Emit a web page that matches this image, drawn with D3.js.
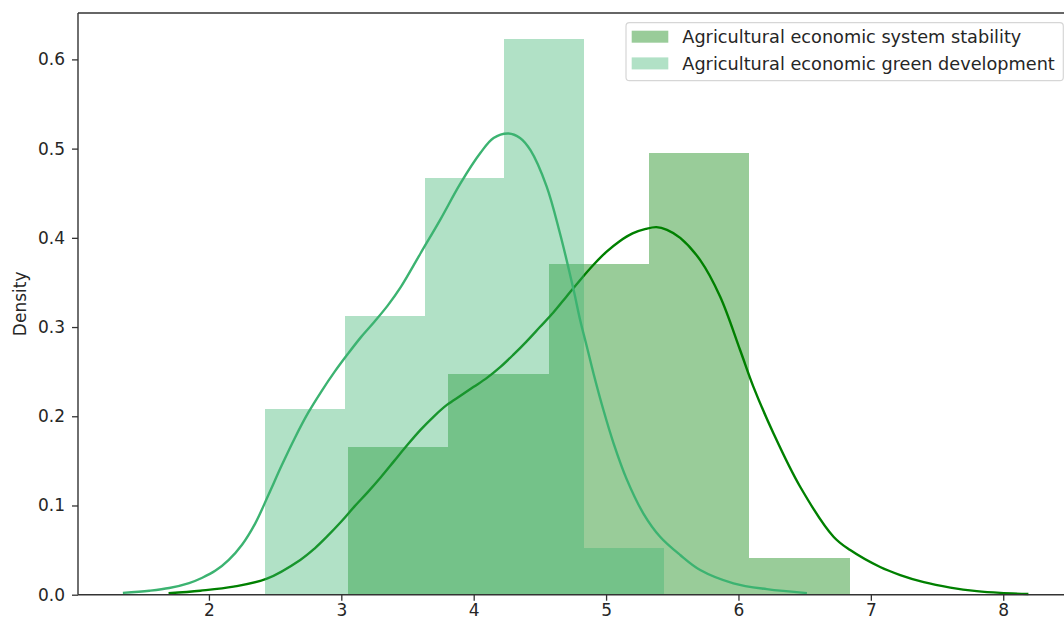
<!DOCTYPE html>
<html>
<head>
<meta charset="utf-8">
<script src="https://cdn.jsdelivr.net/npm/d3@7"></script>
<style>
  html, body { margin: 0; padding: 0; background: #fff; }
  svg { display: block; font-family: "DejaVu Sans", sans-serif; }
</style>
</head>
<body>
<svg id="chart" width="1064" height="621"></svg>
<script>
// ---- Data ----
const seriesNames = ["Agricultural economic system stability", "Agricultural economic green development"];
const seriesColors = ["#008000", "#3cb371"];

const stabilityEdges = [3.050, 3.808, 4.566, 5.324, 6.082, 6.840];
const stabilityDensity = [0.165, 0.247, 0.371, 0.495, 0.041];

const greenEdges = [2.425, 3.027, 3.629, 4.231, 4.833, 5.435];
const greenDensity = [0.208, 0.312, 0.467, 0.623, 0.052];

const stabilityKdeX = [1.695, 1.934, 2.186, 2.438, 2.690, 2.800, 2.891, 3.000, 3.100, 3.200, 3.300, 3.400, 3.500, 3.600, 3.700, 3.800, 3.900, 4.000, 4.100, 4.200, 4.300, 4.400, 4.500, 4.600, 4.700, 4.800, 4.900, 5.000, 5.100, 5.200, 5.300, 5.380, 5.460, 5.560, 5.711, 5.862, 6.013, 6.113, 6.264, 6.466, 6.718, 6.844, 7.070, 7.222, 7.400, 7.600, 7.800, 7.978, 8.190];
const stabilityKdeY = [0.0016, 0.0045, 0.009, 0.018, 0.039, 0.052, 0.065, 0.082, 0.099, 0.115, 0.132, 0.150, 0.168, 0.185, 0.200, 0.213, 0.223, 0.233, 0.243, 0.255, 0.269, 0.284, 0.300, 0.316, 0.334, 0.352, 0.369, 0.384, 0.396, 0.405, 0.410, 0.412, 0.409, 0.400, 0.375, 0.334, 0.274, 0.233, 0.181, 0.121, 0.065, 0.050, 0.031, 0.022, 0.014, 0.008, 0.004, 0.002, 0.0008];

const greenKdeX = [1.350, 1.550, 1.700, 1.850, 1.950, 2.050, 2.150, 2.250, 2.350, 2.450, 2.550, 2.650, 2.750, 2.850, 2.950, 3.050, 3.150, 3.250, 3.350, 3.450, 3.600, 3.750, 3.900, 4.050, 4.150, 4.263, 4.350, 4.430, 4.550, 4.650, 4.754, 4.804, 4.855, 4.905, 4.980, 5.056, 5.157, 5.282, 5.408, 5.560, 5.711, 5.962, 6.214, 6.517];
const greenKdeY = [0.002, 0.0045, 0.0075, 0.013, 0.019, 0.027, 0.039, 0.056, 0.080, 0.112, 0.145, 0.176, 0.204, 0.228, 0.250, 0.270, 0.289, 0.306, 0.324, 0.345, 0.383, 0.421, 0.461, 0.495, 0.512, 0.517, 0.512, 0.498, 0.458, 0.406, 0.342, 0.308, 0.278, 0.248, 0.207, 0.170, 0.129, 0.091, 0.065, 0.0445, 0.0277, 0.0128, 0.0062, 0.0018];

const xTicks = [2, 3, 4, 5, 6, 7, 8];
const yTicks = [0.0, 0.1, 0.2, 0.3, 0.4, 0.5, 0.6];
const yLabel = "Density";

// ---- Layout ----
const svg = d3.select("#chart");
const padL = 78, padR = 1073, padT = 13, padB = 594.7;
const fontSize = 17;
const legendFont = 17.7;
const textColor = "#262626";

const x = d3.scaleLinear().domain([1.011, 8.527]).range([padL, padR]);
const y = d3.scaleLinear().domain([0, 0.652]).range([padB, padT]);

function bins(edges, dens) {
  return dens.map((d, i) => ({ x0: edges[i], x1: edges[i + 1], h: d }));
}
function pts(xs, ys) { return xs.map((v, i) => [v, ys[i]]); }

const line = d3.line().x(d => x(d[0])).y(d => y(d[1])).curve(d3.curveCatmullRom.alpha(0.5));

const plot = svg.append("g");

function drawHist(data, color) {
  plot.append("g").selectAll("rect").data(data).join("rect")
    .attr("x", d => x(d.x0))
    .attr("width", d => x(d.x1) - x(d.x0))
    .attr("y", d => y(d.h))
    .attr("height", d => y(0) - y(d.h))
    .attr("fill", color)
    .attr("fill-opacity", 0.4)
    .attr("shape-rendering", "crispEdges");
}
function drawKde(data, color) {
  plot.append("path").datum(data)
    .attr("d", line)
    .attr("fill", "none")
    .attr("stroke", color)
    .attr("stroke-width", 2.4)
    .attr("stroke-linejoin", "round")
    .attr("stroke-linecap", "butt");
}

// seaborn order: hist + kde of first series, then second series
drawHist(bins(stabilityEdges, stabilityDensity), seriesColors[0]);
drawKde(pts(stabilityKdeX, stabilityKdeY), seriesColors[0]);
drawHist(bins(greenEdges, greenDensity), seriesColors[1]);
drawKde(pts(greenKdeX, greenKdeY), seriesColors[1]);

// ---- Axes ----
const xAxis = d3.axisBottom(x).tickValues(xTicks).tickFormat(d3.format("d")).tickSize(6).tickPadding(3);
const yAxis = d3.axisLeft(y).tickValues(yTicks).tickFormat(d3.format(".1f")).tickSize(6).tickPadding(7);

const gx = svg.append("g").attr("transform", `translate(0,${padB})`).call(xAxis);
const gy = svg.append("g").attr("transform", `translate(${padL},0)`).call(yAxis);
[gx, gy].forEach(g => {
  g.select(".domain").remove();
  g.selectAll(".tick line").attr("stroke", "#333").attr("stroke-width", 1.3);
  g.selectAll(".tick text").attr("fill", textColor).style("font-size", fontSize + "px").style("font-family", "DejaVu Sans");
});

// spines
const spine = svg.append("g").attr("stroke", "#333").attr("stroke-width", 1.4).attr("fill", "none");
spine.append("line").attr("x1", padL).attr("x2", padL).attr("y1", padT).attr("y2", padB);
spine.append("line").attr("x1", padL).attr("x2", padR).attr("y1", padB).attr("y2", padB);
spine.append("line").attr("x1", padL).attr("x2", padR).attr("y1", padT).attr("y2", padT);
spine.append("line").attr("x1", padR).attr("x2", padR).attr("y1", padT).attr("y2", padB);

// y label
svg.append("text")
  .attr("transform", `translate(20,${(padT + padB) / 2}) rotate(-90)`)
  .attr("text-anchor", "middle")
  .attr("dy", "0.35em")
  .attr("fill", textColor)
  .style("font-size", fontSize + "px")
  .text(yLabel);

// ---- Legend ----
const legend = svg.append("g");
legend.append("rect")
  .attr("x", 626).attr("y", 22.7).attr("width", 437.3).attr("height", 58)
  .attr("rx", 3.5).attr("ry", 3.5)
  .attr("fill", "#fff").attr("fill-opacity", 0.8)
  .attr("stroke", "#d6d6d6").attr("stroke-width", 1.2);
const legendRows = legend.selectAll("g.row").data(seriesNames).join("g")
  .attr("class", "row")
  .attr("transform", (d, i) => `translate(0,${36.7 + i * 26.7})`);
legendRows.append("rect")
  .attr("x", 631.7).attr("y", -6).attr("width", 36.6).attr("height", 12)
  .attr("fill", (d, i) => seriesColors[i]).attr("fill-opacity", 0.4);
legendRows.append("text")
  .attr("x", 682.3).attr("dy", "0.35em")
  .attr("fill", textColor)
  .style("font-size", legendFont + "px")
  .text(d => d);
</script>
</body>
</html>
